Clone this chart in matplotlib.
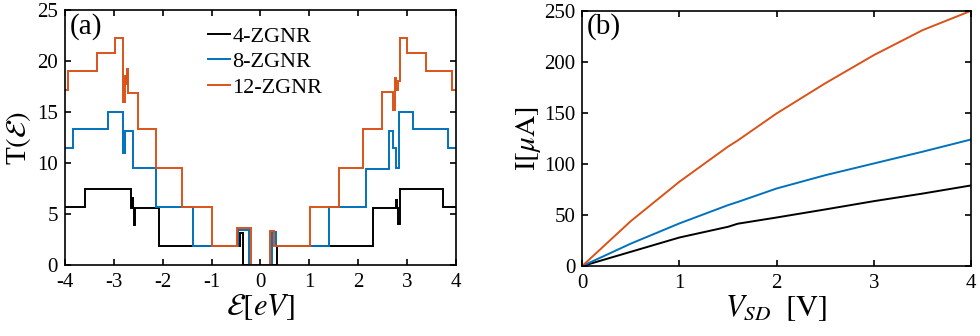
import matplotlib
matplotlib.use("Agg")
import matplotlib.pyplot as plt

plt.rcParams['font.family'] = ['Liberation Serif', 'DejaVu Serif']
plt.rcParams['mathtext.fontset'] = 'stix'
plt.rcParams['axes.unicode_minus'] = False

black = '#000000'
blue = '#0072BD'
orange = '#D95319'

# panel (a): transmission, step edges (eV) and levels between them
edges_4 = [-4, -3.6, -2.64, -2.62, -2.6, -2.58, -2.56, -2.07, -0.42, -0.36, 0.34,
           2.3, 2.78, 2.8, 2.82, 2.85, 3.74, 4]
T_4 = [5.7, 7.5, 5.6, 6.6, 5.6, 3.9, 5.6, 1.85, 3.1, 0, 1.85,
       5.6, 6.4, 5.6, 4.0, 7.5, 5.7]

edges_8 = [-4, -3.84, -3.12, -2.81, -2.77, -2.6, -2.14, -1.39, -0.46, -0.24, 0.24, 0.32,
           1.41, 2.15, 2.62, 2.72, 2.78, 2.84, 3.12, 3.84, 4]
T_8 = [11.5, 13.3, 15.0, 11.0, 13.1, 9.5, 5.7, 1.85, 3.4, 0, 3.2,
       1.85, 5.7, 9.4, 13.1, 11.5, 9.5, 15.0, 13.3, 11.5]

edges_12 = [-4, -3.93, -3.35, -2.98, -2.82, -2.78, -2.75, -2.73, -2.71, -2.5, -2.13, -1.6,
            -1.0, -0.49, -0.19, 0.2, 0.28, 1.01, 1.61, 2.1, 2.48, 2.72, 2.75, 2.78, 2.81,
            2.86, 2.99, 3.39, 3.91, 4]
T_12 = [17.2, 19.0, 20.8, 22.3, 16.0, 18.5, 17.8, 19.2, 16.9, 13.3, 9.5, 5.7,
        1.85, 3.6, 0, 3.3, 1.85, 5.7, 9.5, 13.3, 17.0, 15.2, 18.3, 17.2, 18.0,
        22.3, 20.8, 19.0, 17.2]

# panel (b): I-V curves
V = [0, 0.5, 1, 1.5, 1.6, 2, 2.5, 3, 3.5, 4]
I_4 = [0, 14, 28, 38.5, 41.5, 47.6, 55.5, 63.6, 71, 79]
I_8 = [0, 22, 41.8, 59.7, 62.8, 76, 89, 100.5, 112, 124]
I_12 = [0, 44, 82.6, 117, 123, 149.5, 179, 206.6, 231, 250]

fig = plt.figure(figsize=(9.8, 3.36), dpi=100)
ax1 = fig.add_axes([0.0663, 0.211, 0.399, 0.759])
ax2 = fig.add_axes([0.594, 0.208, 0.397, 0.760])

lw = 1.4
ax1.stairs(T_4, edges_4, baseline=None, color=black, lw=lw, label='4-ZGNR')
ax1.stairs(T_8, edges_8, baseline=None, color=blue, lw=lw, label='8-ZGNR')
ax1.stairs(T_12, edges_12, baseline=None, color=orange, lw=lw, label='12-ZGNR')
ax1.set_xlim(-4, 4)
ax1.set_ylim(0, 25)
ax1.set_xticks(range(-4, 5))
ax1.set_yticks(range(0, 26, 5))
ax1.set_xlabel(r'$\mathcal{E}[eV]$', fontsize=22, labelpad=0)
ax1.set_ylabel(r'T$(\mathcal{E})$', fontsize=21, labelpad=3)
ax1.text(0.012, 0.99, '(a)', transform=ax1.transAxes, fontsize=21, va='top', ha='left')
ax1.legend(loc='upper left', bbox_to_anchor=(0.335, 0.985), frameon=False, fontsize=16,
           handlelength=1.0, handletextpad=0.08, labelspacing=0.22, borderaxespad=0.15)

ax2.plot(V, I_4, color=black, lw=lw)
ax2.plot(V, I_8, color=blue, lw=lw)
ax2.plot(V, I_12, color=orange, lw=lw)
ax2.set_xlim(0, 4)
ax2.set_ylim(0, 250)
ax2.set_xticks(range(0, 5))
ax2.set_yticks(range(0, 251, 50))
ax2.set_xlabel(r'$V_{SD}\ \ [\mathrm{V}]$', fontsize=22, labelpad=0)
ax2.set_ylabel(r'I$[\mu\mathrm{A}]$', fontsize=21, labelpad=1)
ax2.text(0.012, 0.99, '(b)', transform=ax2.transAxes, fontsize=21, va='top', ha='left')

for ax in (ax1, ax2):
    ax.tick_params(direction='in', top=True, right=True, labelsize=15, width=1.2, length=4)
    ax.tick_params(axis='x', pad=6)
    ax.tick_params(axis='y', pad=5)
    for s in ax.spines.values():
        s.set_linewidth(1.2)

fig.savefig('out.png', dpi=100)
